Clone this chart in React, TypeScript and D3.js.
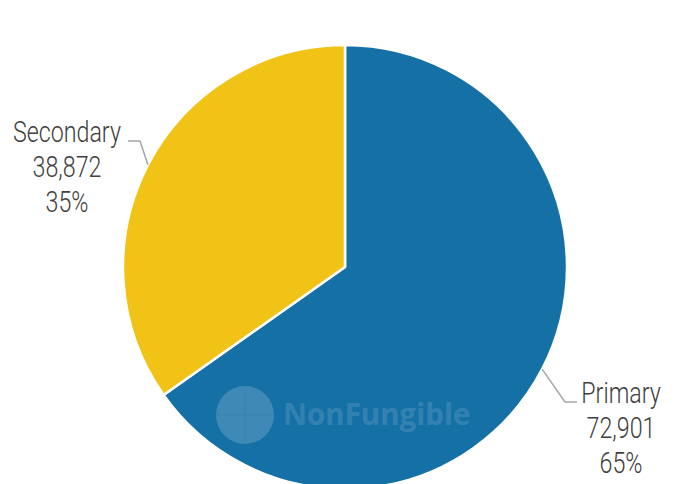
import React from "react";
import * as d3 from "d3";

const categories = ["Primary", "Secondary"];
const values = [72901, 38872];
const colors = ["#1570a6", "#f0c316"];

const W = 676;
const H = 484;
const cx = 345;
const cy = 267;
const R = 222;

export default function App() {
  const pie = d3.pie<number>().sort(null).value((d) => d)(values);
  const arc = d3.arc<d3.PieArcDatum<number>>().innerRadius(0).outerRadius(R);
  const total = d3.sum(values);
  const fmt = d3.format(",");
  const font = "Roboto, sans-serif";

  const layouts = [
    { lx: 621, ly: 403, ex: 565, hx: 577 },
    { lx: 67, ly: 142, ex: 140, hx: 128 },
  ];

  return (
    <svg
      width={W}
      height={H}
      style={{ position: "absolute", left: 0, top: 0, background: "#fff" }}
    >
      <g transform={`translate(${cx},${cy})`}>
        {pie.map((p, i) => (
          <path key={i} d={arc(p) || ""} fill={colors[i]} stroke="#fff" strokeWidth={2.5} strokeLinejoin="round" />
        ))}
      </g>
      <g>
        <circle cx={245} cy={415} r={29} fill="#fff" opacity={0.18} />
        <path d="M216,415 L274,415 M245,386 L245,444" stroke="#1570a6" strokeOpacity={0.2} strokeWidth={1} />
        <text
          x={283}
          y={425}
          fontFamily="'Open Sans', Roboto, sans-serif"
          fontWeight={700}
          fontSize={29.5}
          fill="#fff"
          opacity={0.12}
        >
          NonFungible
        </text>
      </g>
      {pie.map((p, i) => {
        const mid = (p.startAngle + p.endAngle) / 2;
        const sx = cx + R * Math.sin(mid);
        const sy = cy - R * Math.cos(mid);
        const L = layouts[i];
        const pct = Math.round((values[i] / total) * 100);
        return (
          <g key={"l" + i}>
            <polyline
              points={`${sx},${sy} ${L.ex},${L.ly - 1} ${L.hx},${L.ly - 1}`}
              fill="none"
              stroke="#a6a6a6"
              strokeWidth={1.5}
            />
            <g transform={`translate(${L.lx},${L.ly}) scale(0.8,1)`}>
              <text
                x={0}
                y={0}
                textAnchor="middle"
                fontFamily={font}
                fontWeight={300}
                fontSize={29}
                fill="#404040"
              >
                <tspan x={0} dy={0}>{categories[i]}</tspan>
                <tspan x={0} dy={35}>{fmt(values[i])}</tspan>
                <tspan x={0} dy={35}>{pct}%</tspan>
              </text>
            </g>
          </g>
        );
      })}
    </svg>
  );
}
